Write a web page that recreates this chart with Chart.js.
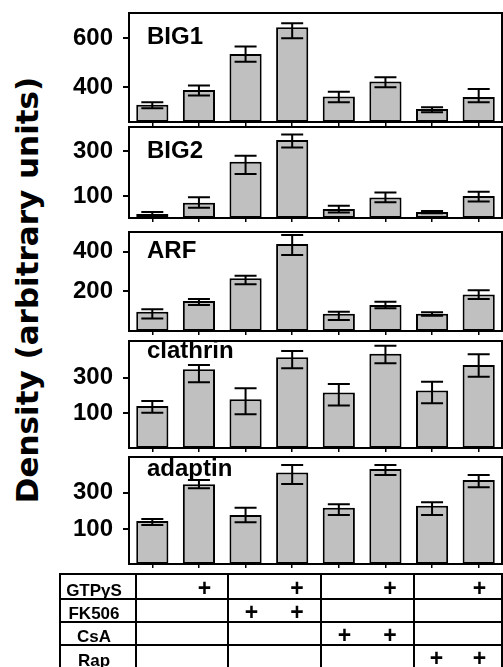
<!DOCTYPE html>
<html>
<head>
<meta charset="utf-8">
<script src="https://cdn.jsdelivr.net/npm/chart.js@4/dist/chart.umd.min.js"></script>
<style>
html,body{margin:0;padding:0;background:#fff;}
body{width:503px;height:667px;overflow:hidden;position:relative;}
.panel{position:absolute;left:0;width:503px;}
#ytitle{position:absolute;left:-193px;top:272px;width:440px;height:36px;line-height:36px;text-align:center;
  transform:rotate(-90deg);font-family:"DejaVu Sans",sans-serif;font-weight:bold;font-size:31px;color:#000;white-space:nowrap;}
#cond{position:absolute;left:59px;top:573px;border-collapse:collapse;table-layout:fixed;
  font-family:"Liberation Sans",Arial,sans-serif;color:#000;}
#cond td{border-top:2px solid #000;border-bottom:2px solid #000;padding:0;overflow:hidden;box-sizing:border-box;}
#cond td.lab{border-left:2px solid #000;border-right:2px solid #000;font-size:17px;font-weight:bold;
  vertical-align:bottom;text-align:center;padding-right:8px;line-height:15px;}
#cond td.g0{border-left:2px solid #000;}
#cond td.g1{border-right:2px solid #000;}
#cond td.mk{text-align:center;vertical-align:middle;font-size:23px;font-weight:bold;line-height:16px;padding-top:2px;}
</style>
</head>
<body>
<div id="ytitle">Density (arbitrary units)</div>
<div class="panel" id="p0"><canvas id="c0"></canvas></div>
<div class="panel" id="p1"><canvas id="c1"></canvas></div>
<div class="panel" id="p2"><canvas id="c2"></canvas></div>
<div class="panel" id="p3"><canvas id="c3"></canvas></div>
<div class="panel" id="p4"><canvas id="c4"></canvas></div>
<table id="cond"></table>
<script>
// ---------- data ----------
const categories = ['Control','GTPγS','FK506','FK506 + GTPγS','CsA','CsA + GTPγS','Rap','Rap + GTPγS'];

const big1Mean = [328, 389, 536, 645, 362, 423, 311, 360];
const big1Hi   = [339, 407, 566, 661, 381, 441, 318, 393];
const big1Lo   = [314, 366, 504, 600, 339, 400, 298, 339];
const big1Ticks = [400, 600];

const big2Mean = [20, 70, 252, 349, 42, 93, 29, 100];
const big2Hi   = [29, 94, 279, 374, 56, 116, 33, 119];
const big2Lo   = [11, 48, 198, 316, 26, 72, 23, 75];
const big2Ticks = [100, 300];

const arfMean = [95, 149, 265, 439, 85, 129, 85, 183];
const arfHi   = [107, 159, 278, 485, 95, 146, 92, 204];
const arfLo   = [61, 129, 234, 383, 53, 112, 74, 159];
const arfTicks = [200, 400];

const clathrinMean = [141, 347, 178, 414, 216, 433, 227, 371];
const clathrinHi   = [169, 371, 240, 449, 264, 479, 277, 431];
const clathrinLo   = [103, 274, 94, 352, 143, 380, 156, 305];
const clathrinTicks = [100, 300];

const adaptinMean = [144, 346, 177, 410, 217, 430, 227, 370];
const adaptinHi   = [155, 370, 217, 452, 236, 452, 247, 397];
const adaptinLo   = [122, 324, 137, 348, 177, 397, 177, 329];
const adaptinTicks = [100, 300];

const treatments = ['GTPγS', 'FK506', 'CsA', 'Rap'];
const gtpFlags   = [0, 1, 0, 1, 0, 1, 0, 1];
const fk506Flags = [0, 0, 1, 1, 0, 0, 0, 0];
const csaFlags   = [0, 0, 0, 0, 1, 1, 0, 0];
const rapFlags   = [0, 0, 0, 0, 0, 0, 1, 1];

// ---------- layout / style ----------
const panels = [
  {label:'BIG1',     mean:big1Mean,     hi:big1Hi,     lo:big1Lo,     ticks:big1Ticks,     min:258, max:703, top:13,  bottom:122, labelDy:31},
  {label:'BIG2',     mean:big2Mean,     hi:big2Hi,     lo:big2Lo,     ticks:big2Ticks,     min:2,   max:407, top:127, bottom:218, labelDy:31},
  {label:'ARF',      mean:arfMean,      hi:arfHi,      lo:arfLo,      ticks:arfTicks,      min:-3,  max:500, top:232, bottom:331, labelDy:26},
  {label:'clathrin', mean:clathrinMean, hi:clathrinHi, lo:clathrinLo, ticks:clathrinTicks, min:-95, max:505, top:341, bottom:448, labelDy:17},
  {label:'adaptin',  mean:adaptinMean,  hi:adaptinHi,  lo:adaptinLo,  ticks:adaptinTicks,  min:-93, max:496, top:457, bottom:564, labelDy:19}
];
const PAD_TOP = 14, PAD_BOTTOM = 2, XAXIS_H = 8, YAXIS_W = 129;
const FONT = '"Liberation Sans", Arial, Helvetica, sans-serif';

Chart.defaults.font.family = FONT;
Chart.defaults.color = '#000';

function decoPlugin(cfg){
  return {
    id:'deco_'+cfg.label,
    afterDatasetsDraw(chart){
      const {ctx, chartArea:a, scales:{x, y}} = chart;
      ctx.save();
      ctx.strokeStyle = '#000';
      ctx.lineWidth = 2;
      ctx.lineCap = 'butt';
      for (let i = 0; i < cfg.hi.length; i++){
        const px = x.getPixelForValue(i);
        const yh = y.getPixelForValue(cfg.hi[i]);
        const yl = y.getPixelForValue(cfg.lo[i]);
        ctx.beginPath();
        ctx.moveTo(px, yh); ctx.lineTo(px, yl);
        ctx.moveTo(px-11, yh); ctx.lineTo(px+11, yh);
        ctx.moveTo(px-11, yl); ctx.lineTo(px+11, yl);
        ctx.stroke();
      }
      ctx.strokeRect(a.left, a.top, a.right - a.left, a.bottom - a.top);
      ctx.fillStyle = '#000';
      ctx.font = 'bold 24px ' + FONT;
      ctx.textBaseline = 'alphabetic';
      ctx.textAlign = 'left';
      ctx.fillText(cfg.label, a.left + 18, a.top + cfg.labelDy);
      ctx.restore();
    }
  };
}

panels.forEach((cfg, k) => {
  const box = document.getElementById('p'+k);
  box.style.top = (cfg.top - PAD_TOP) + 'px';
  box.style.height = (cfg.bottom - cfg.top + PAD_TOP + PAD_BOTTOM + XAXIS_H) + 'px';
  new Chart(document.getElementById('c'+k), {
    type:'bar',
    data:{
      labels: categories,
      datasets:[{
        label: cfg.label,
        data: cfg.mean,
        base: cfg.min,
        backgroundColor:'#c0c0c0',
        borderColor:'#000',
        borderWidth:2,
        borderSkipped:false,
        barPercentage:0.69,
        categoryPercentage:1
      }]
    },
    options:{
      responsive:true,
      maintainAspectRatio:false,
      animation:false,
      events:[],
      layout:{padding:{top:PAD_TOP, right:1, bottom:PAD_BOTTOM, left:0}},
      plugins:{legend:{display:false}, tooltip:{enabled:false}, title:{display:false}},
      scales:{
        x:{
          type:'category',
          offset:true,
          grid:{offset:false, drawOnChartArea:false, drawTicks:true, tickLength:4, color:'#000', lineWidth:1.5},
          border:{display:false},
          ticks:{display:false},
          afterFit: s => { s.height = XAXIS_H; }
        },
        y:{
          min: cfg.min,
          max: cfg.max,
          afterBuildTicks: s => { s.ticks = cfg.ticks.map(v => ({value:v})); },
          afterFit: s => { s.width = YAXIS_W; s.paddingTop = 0; s.paddingBottom = 0; },
          grid:{drawOnChartArea:false, drawTicks:true, tickLength:6, color:'#000', lineWidth:2},
          border:{display:false},
          ticks:{color:'#000', padding:10, font:{family:FONT, size:24, weight:'bold'}}
        }
      }
    },
    plugins:[decoPlugin(cfg)]
  });
});

// ---------- condition table ----------
(function(){
  const flagRows = [gtpFlags, fk506Flags, csaFlags, rapFlags];
  const colW = [76, 46, 46, 46, 47, 46, 47, 44, 44];
  const rowH = [25, 23, 23, 24];
  const t = document.getElementById('cond');
  const cg = document.createElement('colgroup');
  colW.forEach(w => { const c = document.createElement('col'); c.style.width = w + 'px'; cg.appendChild(c); });
  t.appendChild(cg);
  t.style.width = colW.reduce((a,b)=>a+b,0) + 'px';
  treatments.forEach((name, r) => {
    const tr = document.createElement('tr');
    tr.style.height = rowH[r] + 'px';
    const lab = document.createElement('td');
    lab.className = 'lab';
    lab.style.height = rowH[r] + 'px';
    lab.textContent = name;
    tr.appendChild(lab);
    flagRows[r].forEach((f, i) => {
      const td = document.createElement('td');
      td.className = 'mk ' + (i % 2 === 0 ? 'g0' : 'g1');
      td.style.height = rowH[r] + 'px';
      td.textContent = f ? '+' : '';
      tr.appendChild(td);
    });
    t.appendChild(tr);
  });
})();
</script>
</body>
</html>
